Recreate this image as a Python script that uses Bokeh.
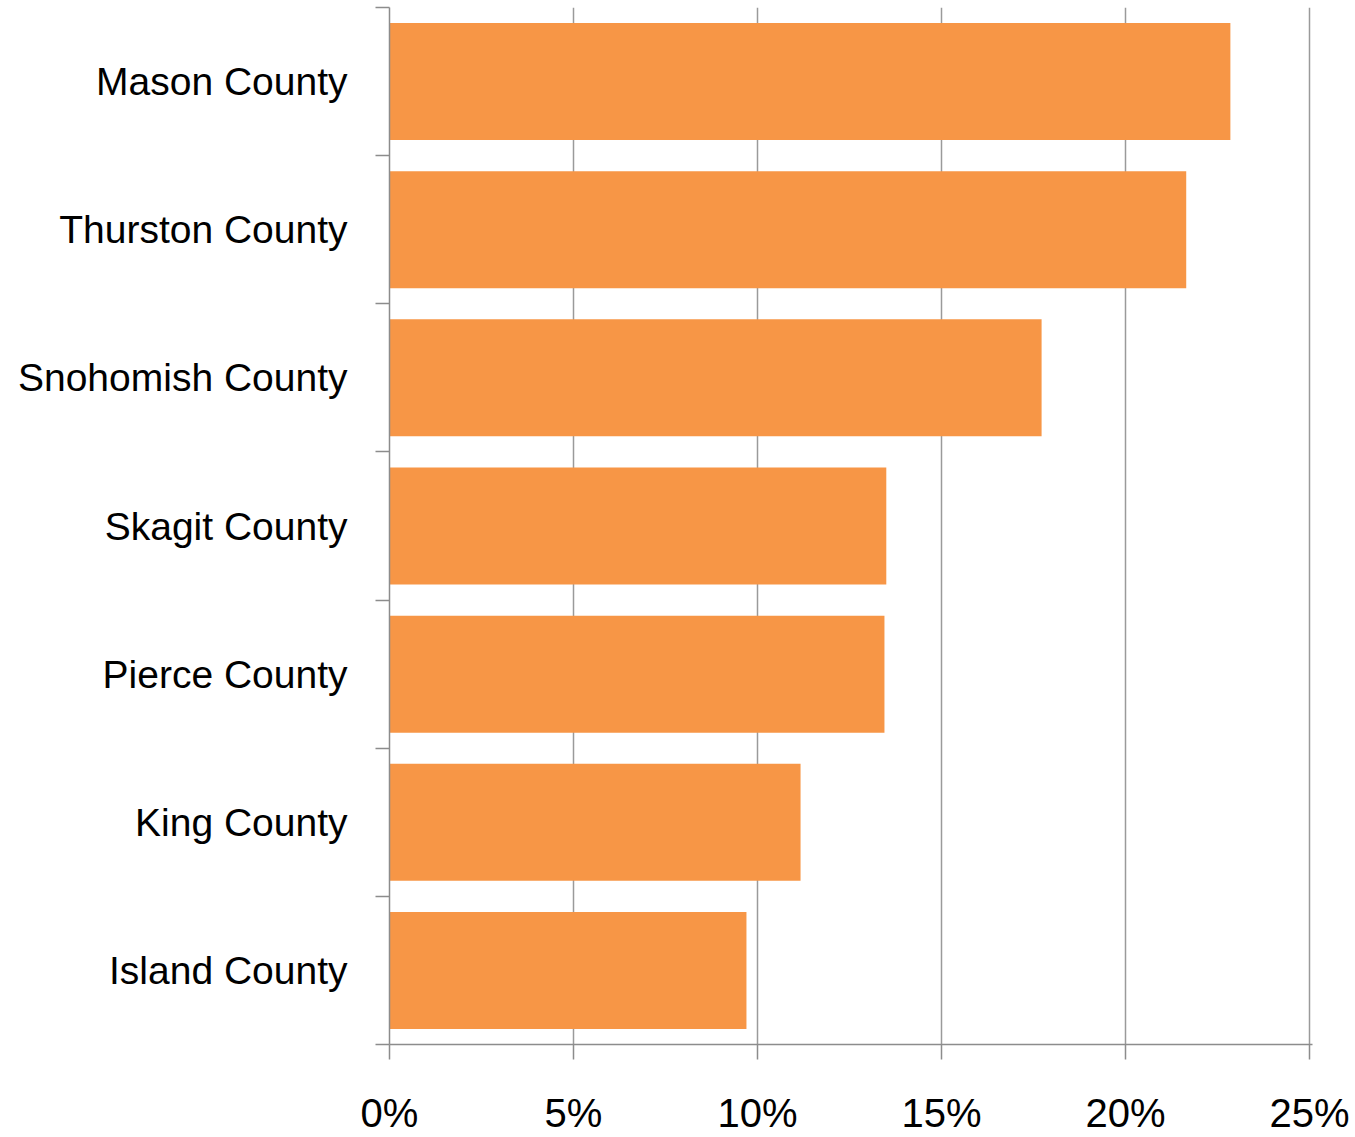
from bokeh.plotting import figure
from bokeh.models import Range1d, FixedTicker, LinearAxis, PrintfTickFormatter
from bokeh.embed import file_html
from bokeh.resources import INLINE

counties = ["Mason County", "Thurston County", "Snohomish County", "Skagit County",
            "Pierce County", "King County", "Island County"]
values = [22.85, 21.65, 17.72, 13.5, 13.45, 11.17, 9.7]
x_ticks = [0, 5, 10, 15, 20, 25]

n = len(counties)
centers = [n - i - 0.5 for i in range(n)]
FONT = "Liberation Sans"
GRAY = "#8c8c8c"

# a hair of extra room on the right so the 25% gridline is not clipped
x_end = 25 * 923 / 920

p = figure(width=1355, height=1137, frame_width=923, frame_height=1037,
           output_backend="svg", toolbar_location=None,
           x_range=Range1d(0, x_end), y_range=Range1d(0, n),
           x_axis_location=None, y_axis_location=None,
           min_border_left=389, min_border_right=43, min_border_top=7, min_border_bottom=93)
p.outline_line_color = None
p.background_fill_color = "white"

p.hbar(y=centers, right=values, left=0, height=0.79, fill_color="#F79646", line_color=None)

xaxis = LinearAxis(ticker=FixedTicker(ticks=x_ticks), formatter=PrintfTickFormatter(format="%d%%"))
xaxis.axis_line_color = GRAY
xaxis.axis_line_width = 1.5
xaxis.major_tick_line_color = GRAY
xaxis.major_tick_line_width = 1.5
xaxis.major_tick_out = 15
xaxis.major_tick_in = 0
xaxis.minor_tick_line_color = None
xaxis.major_label_text_font = FONT
xaxis.major_label_text_font_size = "40px"
xaxis.major_label_text_color = "black"
xaxis.major_label_standoff = 31
xaxis.fixed_location = None
p.add_layout(xaxis, "below")

overrides = {c: lab for c, lab in zip(centers, counties)}
yaxis = LinearAxis(ticker=FixedTicker(ticks=centers, minor_ticks=list(range(n + 1))))
yaxis.major_label_overrides = overrides
yaxis.axis_line_color = GRAY
yaxis.axis_line_width = 1.5
yaxis.major_tick_line_color = None
yaxis.major_tick_out = 0
yaxis.major_tick_in = 0
yaxis.minor_tick_line_color = GRAY
yaxis.minor_tick_line_width = 1.5
yaxis.minor_tick_out = 14
yaxis.minor_tick_in = 0
yaxis.major_label_text_font = FONT
yaxis.major_label_text_font_size = "39px"
yaxis.major_label_text_color = "black"
yaxis.major_label_standoff = 28
p.add_layout(yaxis, "left")

p.xgrid.ticker = FixedTicker(ticks=x_ticks[1:])
p.xgrid.grid_line_color = "#9a9a9a"
p.xgrid.grid_line_width = 1.5
p.ygrid.grid_line_color = None

open("out.html", "w").write(file_html(p, INLINE))
